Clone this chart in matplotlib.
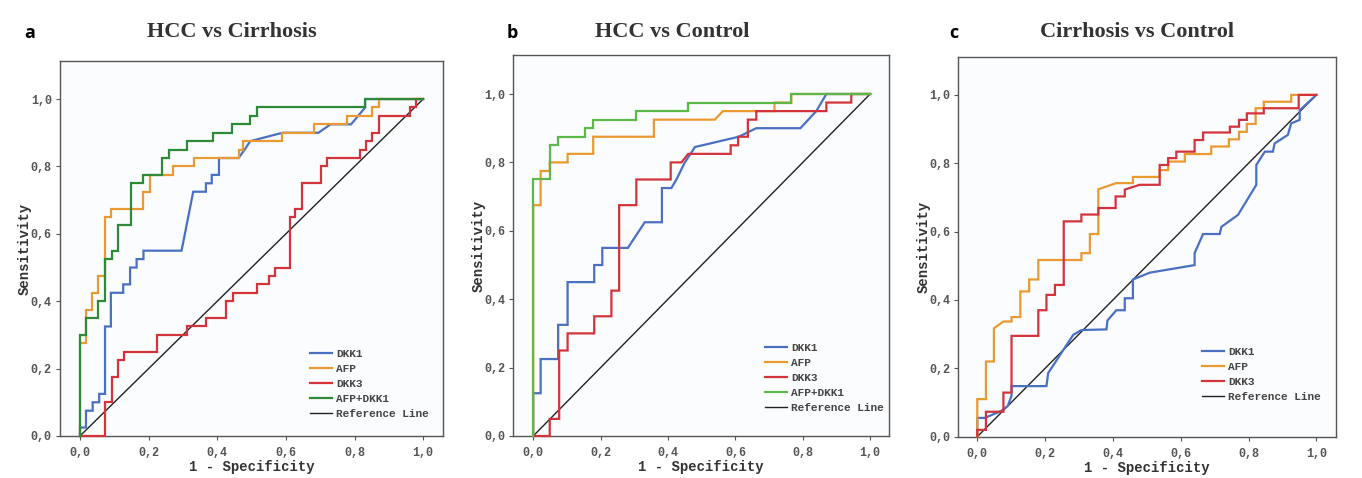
import matplotlib
matplotlib.use("Agg")
import matplotlib.pyplot as plt

# ---------------- data ----------------
titles = ["HCC vs Cirrhosis", "HCC vs Control", "Cirrhosis vs Control"]
panel_labels = ["a", "b", "c"]
tick_vals = [0.0, 0.2, 0.4, 0.6, 0.8, 1.0]
tick_labels = ["0,0", "0,2", "0,4", "0,6", "0,8", "1,0"]

# Panel a: HCC vs Cirrhosis
a_dkk1_x = [0, 0, 0.0175, 0.0175, 0.037, 0.037, 0.056, 0.056, 0.073, 0.073, 0.09, 0.09, 0.126, 0.126, 0.146, 0.146,
            0.165, 0.165, 0.185, 0.185, 0.296, 0.33, 0.367, 0.367, 0.384, 0.384, 0.405, 0.405, 0.462, 0.48, 0.496,
            0.59, 0.695, 0.73, 0.79, 0.831, 0.831, 1.0]
a_dkk1_y = [0, 0.025, 0.025, 0.075, 0.075, 0.10, 0.10, 0.125, 0.125, 0.325, 0.325, 0.425, 0.425, 0.45, 0.45, 0.50,
            0.50, 0.525, 0.525, 0.55, 0.55, 0.725, 0.725, 0.75, 0.75, 0.775, 0.775, 0.825, 0.825, 0.85, 0.875,
            0.90, 0.90, 0.925, 0.925, 0.975, 1.0, 1.0]
a_afp_x = [0, 0, 0.0175, 0.0175, 0.034, 0.034, 0.053, 0.053, 0.072, 0.072, 0.09, 0.09, 0.183, 0.183, 0.204, 0.204,
           0.272, 0.272, 0.332, 0.332, 0.462, 0.462, 0.476, 0.476, 0.59, 0.59, 0.682, 0.682, 0.778, 0.778, 0.85,
           0.85, 0.87, 0.87, 1.0]
a_afp_y = [0, 0.275, 0.275, 0.375, 0.375, 0.425, 0.425, 0.475, 0.475, 0.65, 0.65, 0.675, 0.675, 0.725, 0.725, 0.775,
           0.775, 0.80, 0.80, 0.825, 0.825, 0.85, 0.85, 0.875, 0.875, 0.90, 0.90, 0.925, 0.925, 0.95, 0.95,
           0.975, 0.975, 1.0, 1.0]
a_dkk3_x = [0, 0.073, 0.073, 0.092, 0.092, 0.11, 0.11, 0.128, 0.128, 0.225, 0.225, 0.311, 0.311, 0.367, 0.367,
            0.425, 0.425, 0.446, 0.446, 0.515, 0.515, 0.552, 0.552, 0.569, 0.569, 0.612, 0.612, 0.627, 0.627,
            0.646, 0.646, 0.702, 0.702, 0.721, 0.721, 0.816, 0.816, 0.834, 0.834, 0.85, 0.85, 0.87, 0.87, 0.962,
            0.962, 0.98, 0.98, 1.0]
a_dkk3_y = [0, 0, 0.10, 0.10, 0.175, 0.175, 0.225, 0.225, 0.25, 0.25, 0.30, 0.30, 0.325, 0.325, 0.35, 0.35, 0.40,
            0.40, 0.425, 0.425, 0.45, 0.45, 0.475, 0.475, 0.50, 0.50, 0.65, 0.65, 0.675, 0.675, 0.75, 0.75, 0.80,
            0.80, 0.825, 0.825, 0.85, 0.85, 0.875, 0.875, 0.90, 0.90, 0.95, 0.95, 0.975, 0.975, 1.0, 1.0]
a_comb_x = [0, 0, 0.0175, 0.0175, 0.053, 0.053, 0.073, 0.073, 0.092, 0.092, 0.11, 0.11, 0.148, 0.148, 0.183, 0.183,
            0.24, 0.24, 0.258, 0.258, 0.311, 0.311, 0.389, 0.389, 0.444, 0.444, 0.496, 0.496, 0.515, 0.515, 0.831,
            0.831, 1.0]
a_comb_y = [0, 0.30, 0.30, 0.35, 0.35, 0.40, 0.40, 0.525, 0.525, 0.55, 0.55, 0.625, 0.625, 0.75, 0.75, 0.775,
            0.775, 0.825, 0.825, 0.85, 0.85, 0.875, 0.875, 0.90, 0.90, 0.925, 0.925, 0.95, 0.95, 0.975, 0.975,
            1.0, 1.0]

# Panel b: HCC vs Control
b_dkk1_x = [0, 0, 0.022, 0.022, 0.074, 0.074, 0.102, 0.102, 0.181, 0.181, 0.205, 0.205, 0.281, 0.331, 0.382,
            0.382, 0.41, 0.425, 0.45, 0.48, 0.61, 0.662, 0.793, 0.84, 0.87, 1.0]
b_dkk1_y = [0, 0.125, 0.125, 0.225, 0.225, 0.325, 0.325, 0.45, 0.45, 0.50, 0.50, 0.55, 0.55, 0.625, 0.625, 0.725,
            0.725, 0.75, 0.80, 0.845, 0.875, 0.90, 0.90, 0.95, 1.0, 1.0]
b_afp_x = [0, 0, 0.022, 0.022, 0.049, 0.049, 0.102, 0.102, 0.178, 0.178, 0.358, 0.358, 0.539, 0.563, 0.716, 0.716,
           0.766, 0.766, 1.0]
b_afp_y = [0, 0.675, 0.675, 0.775, 0.775, 0.80, 0.80, 0.825, 0.825, 0.875, 0.875, 0.925, 0.925, 0.95, 0.95, 0.975,
           0.975, 1.0, 1.0]
b_dkk3_x = [0, 0.049, 0.049, 0.077, 0.077, 0.102, 0.102, 0.181, 0.181, 0.232, 0.232, 0.255, 0.255, 0.306, 0.306,
            0.408, 0.408, 0.44, 0.46, 0.586, 0.586, 0.608, 0.608, 0.637, 0.637, 0.662, 0.662, 0.87, 0.87, 0.944,
            0.944, 1.0]
b_dkk3_y = [0, 0, 0.05, 0.05, 0.25, 0.25, 0.30, 0.30, 0.35, 0.35, 0.425, 0.425, 0.675, 0.675, 0.75, 0.75, 0.80,
            0.80, 0.825, 0.825, 0.85, 0.85, 0.875, 0.875, 0.925, 0.925, 0.95, 0.95, 0.975, 0.975, 1.0, 1.0]
b_comb_x = [0, 0, 0.0495, 0.0495, 0.074, 0.074, 0.153, 0.153, 0.178, 0.178, 0.306, 0.306, 0.459, 0.459, 0.766,
            0.766, 1.0]
b_comb_y = [0, 0.75, 0.75, 0.85, 0.85, 0.875, 0.875, 0.90, 0.90, 0.925, 0.925, 0.95, 0.95, 0.975, 0.975, 1.0, 1.0]

# Panel c: Cirrhosis vs Control
c_dkk1_x = [0, 0, 0.022, 0.07, 0.09, 0.101, 0.101, 0.204, 0.209, 0.283, 0.307, 0.381, 0.384, 0.41, 0.435, 0.435,
            0.459, 0.459, 0.509, 0.641, 0.641, 0.666, 0.715, 0.72, 0.769, 0.823, 0.823, 0.848, 0.872, 0.877,
            0.916, 0.926, 0.951, 0.951, 1.0]
c_dkk1_y = [0, 0.055, 0.055, 0.075, 0.09, 0.12, 0.148, 0.148, 0.186, 0.298, 0.312, 0.314, 0.34, 0.37, 0.37, 0.405,
            0.405, 0.46, 0.48, 0.502, 0.537, 0.593, 0.593, 0.614, 0.649, 0.737, 0.795, 0.834, 0.834, 0.858,
            0.883, 0.917, 0.927, 0.955, 1.0]
c_afp_x = [0, 0, 0.0255, 0.0255, 0.049, 0.049, 0.077, 0.101, 0.101, 0.127, 0.127, 0.153, 0.153, 0.18, 0.18, 0.307,
           0.307, 0.332, 0.332, 0.357, 0.357, 0.41, 0.459, 0.459, 0.538, 0.538, 0.563, 0.563, 0.612, 0.612, 0.69,
           0.69, 0.742, 0.742, 0.772, 0.772, 0.795, 0.795, 0.821, 0.821, 0.845, 0.845, 0.926, 0.926, 1.0]
c_afp_y = [0, 0.11, 0.11, 0.22, 0.22, 0.317, 0.337, 0.337, 0.35, 0.35, 0.425, 0.425, 0.46, 0.46, 0.517, 0.517,
           0.537, 0.537, 0.593, 0.593, 0.724, 0.742, 0.742, 0.76, 0.76, 0.78, 0.78, 0.805, 0.805, 0.827, 0.827,
           0.849, 0.849, 0.87, 0.87, 0.892, 0.892, 0.915, 0.915, 0.961, 0.961, 0.98, 0.98, 1.0, 1.0]
c_dkk3_x = [0, 0, 0.0255, 0.0255, 0.077, 0.077, 0.101, 0.101, 0.18, 0.18, 0.204, 0.204, 0.229, 0.229, 0.255, 0.255,
            0.307, 0.307, 0.357, 0.357, 0.408, 0.408, 0.435, 0.435, 0.479, 0.538, 0.538, 0.563, 0.563, 0.587,
            0.587, 0.641, 0.641, 0.666, 0.666, 0.745, 0.745, 0.772, 0.772, 0.795, 0.795, 0.845, 0.845, 0.948,
            0.948, 1.0]
c_dkk3_y = [0, 0.02, 0.02, 0.073, 0.073, 0.129, 0.129, 0.295, 0.295, 0.37, 0.37, 0.415, 0.415, 0.444, 0.444, 0.63,
            0.63, 0.65, 0.65, 0.669, 0.669, 0.703, 0.703, 0.723, 0.737, 0.737, 0.795, 0.795, 0.815, 0.815, 0.834,
            0.834, 0.868, 0.868, 0.89, 0.89, 0.907, 0.907, 0.927, 0.927, 0.946, 0.946, 0.961, 0.961, 1.0, 1.0]

ref_x = [0, 1]
ref_y = [0, 1]

colors = {"DKK1": "#4a70c2", "AFP": "#ea9a30", "DKK3": "#d3343c"}
green_colors = ["#2f8a38", "#5db84a"]

panels = [
    {"series": [("DKK1", a_dkk1_x, a_dkk1_y), ("AFP", a_afp_x, a_afp_y), ("DKK3", a_dkk3_x, a_dkk3_y),
                ("AFP+DKK1", a_comb_x, a_comb_y)], "green": green_colors[0],
     "pos": [0.0441, 0.0879, 0.2812, 0.7845], "xlim": (-0.058, 1.058), "ylim": (0, 1.113),
     "leg": (0.653, 0.231), "title_x": 232, "lab_x": 30},
    {"series": [("DKK1", b_dkk1_x, b_dkk1_y), ("AFP", b_afp_x, b_afp_y), ("DKK3", b_dkk3_x, b_dkk3_y),
                ("AFP+DKK1", b_comb_x, b_comb_y)], "green": green_colors[1],
     "pos": [0.3769, 0.0879, 0.2756, 0.797], "xlim": (-0.059, 1.055), "ylim": (0, 1.114),
     "leg": (0.670, 0.245), "title_x": 672, "lab_x": 512},
    {"series": [("DKK1", c_dkk1_x, c_dkk1_y), ("AFP", c_afp_x, c_afp_y), ("DKK3", c_dkk3_x, c_dkk3_y)],
     "green": None,
     "pos": [0.7036, 0.0864, 0.2773, 0.7937], "xlim": (-0.056, 1.058), "ylim": (0, 1.11),
     "leg": (0.645, 0.237), "title_x": 1137, "lab_x": 954},
]

W, H = 1362, 478
fig = plt.figure(figsize=(W / 100, H / 100), dpi=100, facecolor="white")
mono = "Liberation Mono"

for i, p in enumerate(panels):
    ax = fig.add_axes(p["pos"])
    ax.set_facecolor("#fbfcfe")
    handles = []
    for name, xs, ys in p["series"]:
        col = p["green"] if name == "AFP+DKK1" else colors[name]
        ln, = ax.plot(xs, ys, color=col, lw=1.6, label=name, clip_on=False, zorder=3,
                      solid_joinstyle="miter")
        handles.append(ln)
    rl, = ax.plot(ref_x, ref_y, color="#222222", lw=1.0, label="Reference Line", zorder=2)
    handles.append(rl)
    ax.set_xlim(*p["xlim"])
    ax.set_ylim(*p["ylim"])
    ax.set_xticks(tick_vals)
    ax.set_xticklabels(tick_labels)
    ax.set_yticks(tick_vals)
    ax.set_yticklabels(tick_labels)
    ax.tick_params(direction="out", length=3, width=0.8, color="#555555", labelcolor="#555555",
                   labelsize=8.5, pad=3)
    ax.tick_params(axis="x", pad=5)
    for lab in ax.get_xticklabels() + ax.get_yticklabels():
        lab.set_fontfamily(mono)
        lab.set_fontweight("bold")
    for s in ax.spines.values():
        s.set_color("#555555")
        s.set_linewidth(1.0)
    ax.set_xlabel("1 - Specificity", fontfamily=mono, fontweight="bold", fontsize=10,
                  color="#333333", labelpad=1)
    ax.set_ylabel("Sensitivity", fontfamily=mono, fontweight="bold", fontsize=10,
                  color="#333333", labelpad=-1)
    leg = ax.legend(handles=handles, loc="upper left", bbox_to_anchor=p["leg"], frameon=False,
                    prop={"family": mono, "weight": "bold", "size": 8},
                    handlelength=2.0, handletextpad=0.35, labelspacing=0.45, borderpad=0,
                    borderaxespad=0)
    for t in leg.get_texts():
        t.set_color("#444444")
    fig.text(p["title_x"] / W, 1 - 32 / H, titles[i], ha="center", va="center",
             fontfamily="Liberation Serif", fontweight="bold", fontsize=16, color="#333333")
    fig.text(p["lab_x"] / W, 1 - 33 / H, panel_labels[i], ha="center", va="center",
             fontfamily="Open Sans", fontweight="bold", fontsize=13, color="black")

fig.savefig("out.png", dpi=100, facecolor="white")
